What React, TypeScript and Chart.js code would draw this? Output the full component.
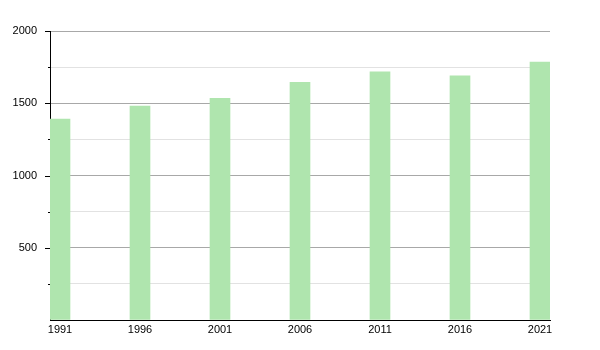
import React, { useEffect, useRef } from "react";
import { Chart, registerables } from "chart.js";

Chart.register(...registerables);

const years = [1991, 1996, 2001, 2006, 2011, 2016, 2021];
const population = [1391, 1481, 1534, 1645, 1718, 1689, 1785];
const yTicks = [500, 1000, 1500, 2000];

const BAR_SHIFT = 0.625; // bar starts at the year and is 1.25 years wide

const tickPlugin = {
  id: "yTickMarks",
  afterDraw(chart: any) {
    const y = chart.scales.y;
    const ctx = chart.ctx;
    const x0 = chart.chartArea.left;
    ctx.save();
    ctx.strokeStyle = "#000";
    ctx.lineWidth = 1;
    for (let v = 250; v <= 2000; v += 250) {
      const py = Math.round(y.getPixelForValue(v)) + 0.5;
      const len = v % 500 === 0 ? 5 : 2;
      ctx.beginPath();
      ctx.moveTo(x0 - len, py);
      ctx.lineTo(x0, py);
      ctx.stroke();
    }
    ctx.restore();
  },
};

export default function App() {
  const ref = useRef<HTMLCanvasElement | null>(null);

  useEffect(() => {
    if (!ref.current) return;
    const chart = new Chart(ref.current, {
      type: "bar",
      data: {
        datasets: [
          {
            data: years.map((y, i) => ({ x: y + BAR_SHIFT, y: population[i] })),
            backgroundColor: "#afe5ae",
            borderWidth: 0,
            barThickness: 20,
          },
        ],
      },
      options: {
        animation: false,
        responsive: false,
        layout: { padding: { left: 0, right: 50, top: 31, bottom: 0 } },
        plugins: { legend: { display: false }, tooltip: { enabled: false } },
        scales: {
          x: {
            type: "linear",
            offset: false,
            min: years[0],
            max: years[years.length - 1] + 2 * BAR_SHIFT,
            afterBuildTicks: (scale: any) => {
              scale.ticks = years.map((y) => ({ value: y + BAR_SHIFT }));
            },
            afterFit: (scale: any) => {
              scale.height = 30;
            },
            grid: { display: false, drawTicks: false },
            border: { display: true, color: "#000", width: 1 },
            ticks: {
              autoSkip: false,
              maxRotation: 0,
              padding: 3,
              color: "#000",
              font: { family: "Liberation Sans", size: 11 },
              callback: (v: any) => String(Math.round(Number(v) - BAR_SHIFT)),
            },
          },
          y: {
            min: 0,
            max: 2000,
            afterBuildTicks: (scale: any) => {
              const t: any[] = [];
              for (let v = 0; v <= 2000; v += 250) t.push({ value: v });
              scale.ticks = t;
            },
            afterFit: (scale: any) => {
              scale.width = 50;
            },
            border: { display: true, color: "#000", width: 1 },
            grid: {
              drawTicks: false,
              color: (ctx: any) =>
                ctx.tick && ctx.tick.value === 0
                  ? "rgba(0,0,0,0)"
                  : ctx.tick && ctx.tick.value % 500 === 0
                  ? "#a8a8a8"
                  : "#e2e2e2",
              lineWidth: 1,
            },
            ticks: {
              padding: 13,
              color: "#000",
              font: { family: "Liberation Sans", size: 11 },
              callback: (v: any) => (yTicks.includes(Number(v)) ? String(v) : ""),
            },
          },
        },
      },
      plugins: [tickPlugin],
    });
    return () => chart.destroy();
  }, []);

  return (
    <div style={{ position: "fixed", left: 0, top: 0, width: 600, height: 350, background: "#fff" }}>
      <canvas ref={ref} width={600} height={350} style={{ width: 600, height: 350 }} />
    </div>
  );
}
